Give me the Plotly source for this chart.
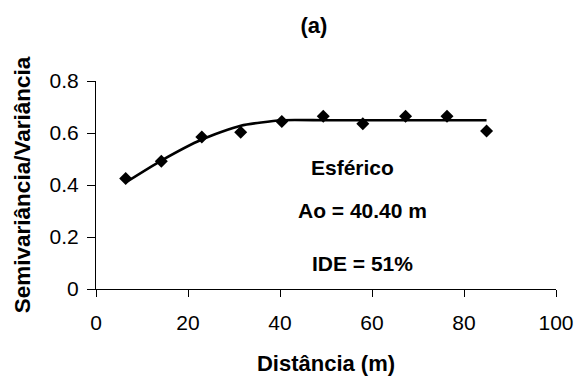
import plotly.graph_objects as go

# Observed semivariance (lag distance, m)
distance = [6.45, 14.2, 23.0, 31.45, 40.4, 49.4, 58.0, 67.3, 76.3, 84.9]
semivar = [0.425, 0.491, 0.585, 0.603, 0.644, 0.664, 0.636, 0.664, 0.664, 0.608]

# Fitted spherical model values at the same lags
model_vals = [0.41, 0.494, 0.575, 0.628, 0.649, 0.649, 0.649, 0.649, 0.649, 0.649]

x_ticks = [0, 20, 40, 60, 80, 100]
y_ticks = [0, 0.2, 0.4, 0.6, 0.8]
y_tick_text = ["0", "0.2", "0.4", "0.6", "0.8"]

FONT = "Arial, 'Liberation Sans', sans-serif"

fig = go.Figure()
fig.add_trace(go.Scatter(
    x=distance, y=semivar, mode="markers",
    marker=dict(symbol="diamond", size=10, color="black"),
    showlegend=False,
))
fig.add_trace(go.Scatter(
    x=distance, y=model_vals, mode="lines",
    line=dict(color="black", width=2.6, shape="spline", smoothing=0.6),
    showlegend=False,
))

ann_font = dict(family=FONT, size=21, color="black")
fig.add_annotation(x=55.8, y=0.469, text="<b>Esférico</b>", showarrow=False, font=ann_font)
fig.add_annotation(x=58.0, y=0.303, text="<b>Ao = 40.40 m</b>", showarrow=False, font=ann_font)
fig.add_annotation(x=58.0, y=0.10, text="<b>IDE = 51%</b>", showarrow=False, font=ann_font)

fig.update_layout(
    width=576, height=376,
    margin=dict(l=96, r=20, t=81, b=87),
    paper_bgcolor="white", plot_bgcolor="white",
    font=dict(family=FONT, size=21, color="black"),
    title=dict(text="<b>(a)</b>", x=314/576, xanchor="center", y=1 - 25/376,
               yanchor="middle", font=dict(family=FONT, size=22, color="black")),
)
fig.update_xaxes(
    range=[0, 100], tickvals=x_ticks, showgrid=False, zeroline=False,
    showline=True, linecolor="black", linewidth=1, automargin=False,
    ticks="outside", ticklen=7, tickcolor="black", tickwidth=1,
    ticklabelstandoff=8,
    tickfont=dict(family=FONT, size=21, color="black"),
    title=dict(text="<b>Distância (m)</b>", standoff=22,
               font=dict(family=FONT, size=22, color="black")),
)
fig.update_yaxes(
    range=[0, 0.8], tickvals=y_ticks, ticktext=y_tick_text, showgrid=False,
    zeroline=False, showline=True, linecolor="black", linewidth=1, automargin=False,
    ticks="outside", ticklen=8, tickcolor="black", tickwidth=1,
    ticklabelstandoff=4,
    tickfont=dict(family=FONT, size=21, color="black"),
    title=dict(text="<b>Semivariância/Variância</b>", standoff=12,
               font=dict(family=FONT, size=22.5, color="black")),
)

fig.write_html(
    "out.html",
    config={"displayModeBar": False},
    post_script="document.body.style.margin='0px';document.body.style.overflow='hidden';",
)
